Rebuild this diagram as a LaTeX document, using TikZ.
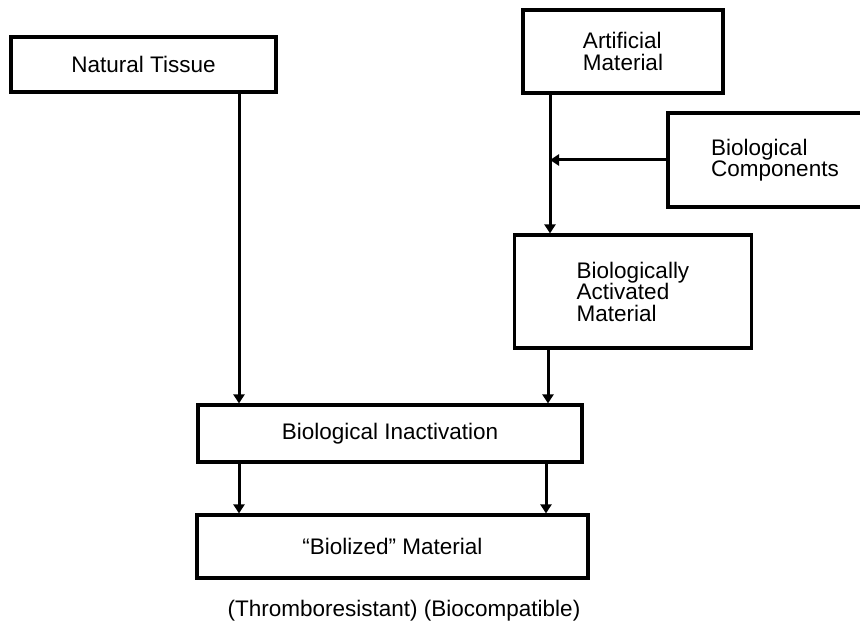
\documentclass[tikz,border=0pt]{standalone}
\usepackage{fontspec}
\setmainfont{Liberation Sans}
\usetikzlibrary{arrows.meta}
\begin{document}
\begin{tikzpicture}[x=1pt,y=-1pt,
  font=\fontsize{22.5}{21.5}\selectfont,
  boxnode/.style={draw=black,line width=3.2pt,rectangle,inner sep=0pt,align=left},
  arr/.style={line width=3pt,-{Triangle[width=11pt,length=9pt]}}]
\useasboundingbox (0,0) rectangle (860,631);
\node[boxnode,minimum width=265pt,minimum height=55pt] (NT) at (143.5,64.5) {Natural Tissue};
\node[boxnode,minimum width=200pt,minimum height=83pt] (AM) at (623,51.5) {Artificial\\Material};
\node[boxnode,minimum width=214pt,minimum height=94pt] (BC) at (775,160) {Biological\\Components};
\node[boxnode,minimum width=237pt,minimum height=113pt] (BAM) at (633,291.5) {Biologically\\Activated\\Material};
\node[boxnode,minimum width=384pt,minimum height=57pt] (BI) at (390,433.5) {Biological Inactivation};
\node[boxnode,minimum width=391pt,minimum height=63pt] (BM) at (392.5,546.5) {“Biolized” Material};
\node[inner sep=0pt] (note) at (404,611) {(Thromboresistant) (Biocompatible)};
\coordinate (xa) at (239,0);
\coordinate (xb) at (550,0);
\coordinate (xc) at (548,0);
\coordinate (xd) at (546,0);
\draw[arr] (xa |- NT.south) -- (xa |- BI.north);
\draw[arr] (xb |- AM.south) -- (xb |- BAM.north);
\draw[arr] (BC.west) -- (BC.west -| xb);
\draw[arr] (xc |- BAM.south) -- (xc |- BI.north);
\draw[arr] (xa |- BI.south) -- (xa |- BM.north);
\draw[arr] (xd |- BI.south) -- (xd |- BM.north);
\end{tikzpicture}
\end{document}
